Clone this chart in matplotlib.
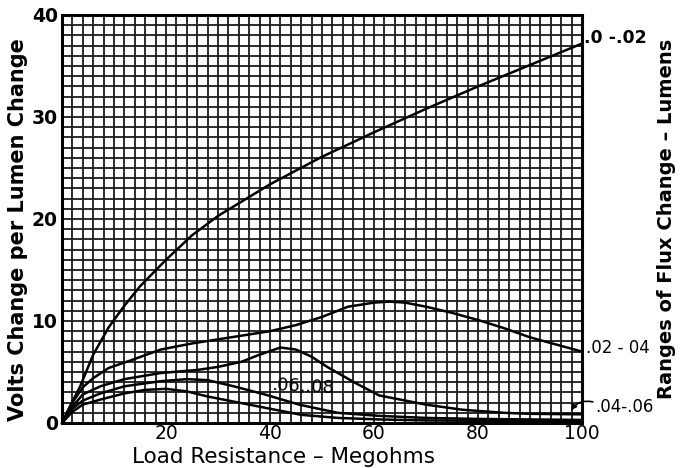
import matplotlib
matplotlib.use("Agg")
import matplotlib.pyplot as plt
import numpy as np

# Load resistance (megohms) and volts change per lumen change for each flux range
x_a = [0, 1, 2, 3.5, 6, 9, 12, 15, 20, 25, 30, 40, 50, 60, 70, 80, 90, 100]
y_a = [0, 1.1, 2.1, 3.6, 6.7, 9.4, 11.5, 13.4, 16.0, 18.4, 20.3, 23.4, 26.1, 28.5, 30.8, 33.0, 35.1, 37.2]

x_b = [0, 2, 4, 6, 9, 13, 19, 25, 30, 35, 40, 45, 50, 55, 60, 63, 66, 70, 75, 80, 85, 90, 95, 100]
y_b = [0, 2.0, 3.5, 4.4, 5.4, 6.1, 7.2, 7.8, 8.2, 8.6, 9.0, 9.6, 10.4, 11.4, 11.8, 11.9, 11.8, 11.4, 10.8, 10.1, 9.3, 8.4, 7.7, 7.0]

x_c = [0, 2, 4, 7.4, 12, 19, 26, 30, 34.5, 38, 42, 45, 48, 51, 56.5, 61, 65, 70, 77, 85, 90, 100]
y_c = [0, 1.6, 2.8, 3.6, 4.3, 4.9, 5.2, 5.5, 6.0, 6.7, 7.4, 7.2, 6.5, 5.5, 3.9, 2.7, 2.3, 1.8, 1.3, 1.0, 0.9, 0.85]

x_d = [0, 2, 4, 7.4, 12, 19, 24, 28, 33, 39, 45.6, 53, 61, 70, 80, 90, 100]
y_d = [0, 1.4, 2.2, 2.9, 3.6, 4.1, 4.3, 4.2, 3.6, 2.8, 1.8, 1.0, 0.7, 0.5, 0.4, 0.35, 0.3]

x_e = [0, 2, 4, 7.4, 12, 16, 20, 24, 28, 32, 36, 41, 46, 53, 61, 70, 85, 100]
y_e = [0, 1.1, 1.8, 2.3, 2.9, 3.25, 3.35, 3.1, 2.6, 2.2, 1.8, 1.3, 0.8, 0.5, 0.35, 0.25, 0.2, 0.2]

x_ticks = [20, 40, 60, 80, 100]
y_ticks = [0, 10, 20, 30, 40]

fig = plt.figure(figsize=(6.82, 4.68), dpi=100)
ax = fig.add_axes([62/682, 45/468, 520/682, 408/468])

ax.set_xlim(0, 100)
ax.set_ylim(0, 40)
ax.set_xticks(x_ticks)
ax.set_yticks(y_ticks)
ax.set_xticks(np.arange(0, 101, 2), minor=True)
ax.set_yticks(np.arange(0, 41, 1), minor=True)
ax.grid(which='both', color='#1a1a1a', linewidth=1.3)
ax.set_axisbelow(True)
ax.tick_params(which='both', length=0)
ax.tick_params(axis='y', pad=3)
ax.tick_params(axis='x', pad=1)
for lab in ax.get_yticklabels():
    lab.set_fontsize(13.5)
    lab.set_fontweight('bold')
for lab in ax.get_xticklabels():
    lab.set_fontsize(13.5)
for s in ax.spines.values():
    s.set_linewidth(2.2)
    s.set_color('black')

for xs, ys in [(x_a, y_a), (x_b, y_b), (x_c, y_c), (x_d, y_d), (x_e, y_e)]:
    ax.plot(xs, ys, color='black', linewidth=1.8, solid_capstyle='round', clip_on=False, zorder=3)

ax.set_xlabel('Load Resistance – Megohms', fontsize=15.5)
ax.xaxis.set_label_coords((283 - 62) / 520, (423 - 457) / 408)
ax.xaxis.label.set_va('center')
ax.set_ylabel('Volts Change per Lumen Change', fontsize=15, fontweight='bold')
ax.yaxis.set_label_coords(-(62 - 18) / 520, (423 - 230) / 408)
ax.yaxis.label.set_va('center')

ax.text(100.4, 37.7, '.0 -.02', fontsize=12.5, fontweight='bold', va='center', ha='left')
ax.text(100.8, 7.4, '.02 - 04', fontsize=12, va='center', ha='left')
ax.text(102.6, 1.6, '.04-.06', fontsize=12, va='center', ha='left')
ax.annotate('', xy=(97.6, 1.0), xytext=(102.6, 2.0),
            arrowprops=dict(arrowstyle='-|>', color='black', lw=1.2,
                            connectionstyle='arc3,rad=0.4', mutation_scale=8),
            annotation_clip=False)
ax.text(40.2, 3.6, '.06,.08', fontsize=13, va='center', ha='left', rotation=-3)

fig.text(667/682, 1 - 219/468, 'Ranges of Flux Change – Lumens', fontsize=14,
         fontweight='bold', rotation=90, va='center', ha='center')

fig.savefig('out.png', dpi=100)
